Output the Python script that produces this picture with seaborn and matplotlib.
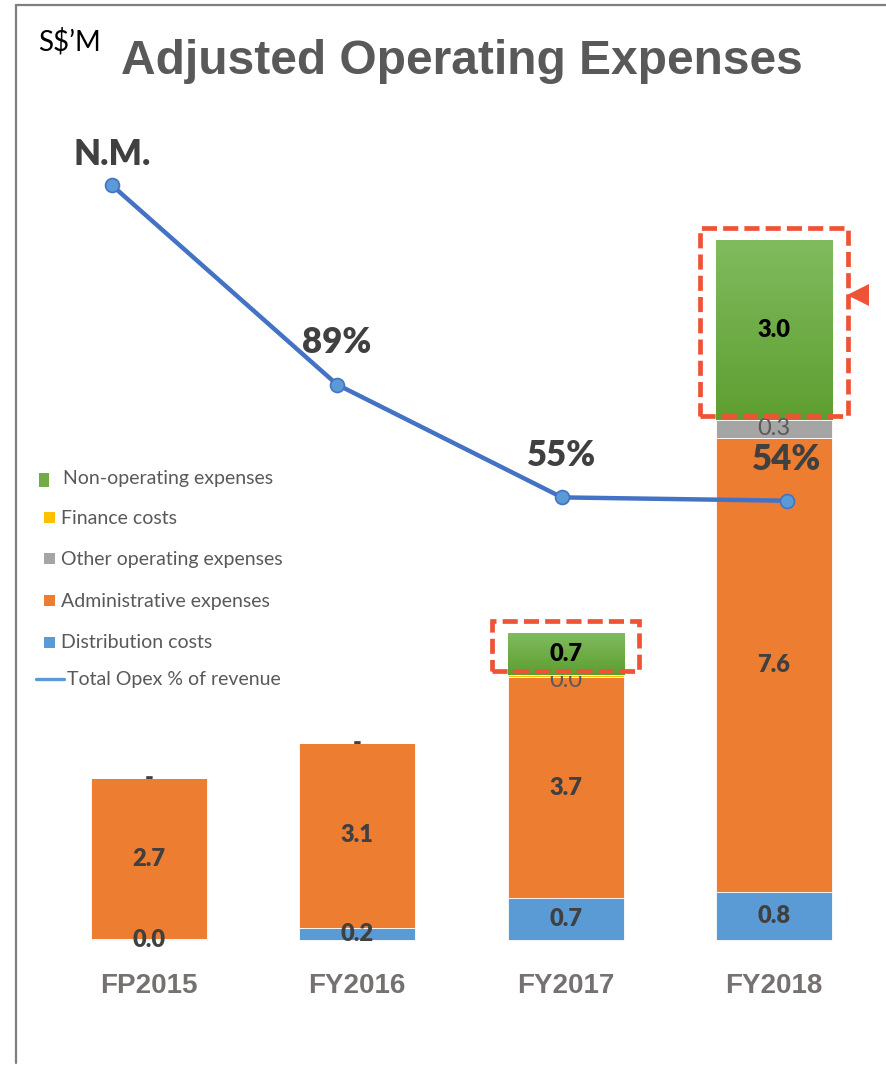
import numpy as np
import matplotlib
matplotlib.use("Agg")
import matplotlib.pyplot as plt
from matplotlib.patches import Rectangle
from matplotlib.lines import Line2D
import seaborn as sns

# ---- data (S$ million) ----
periods = ["FP2015", "FY2016", "FY2017", "FY2018"]
distribution = [0.01, 0.2, 0.7, 0.8]
administrative = [2.7, 3.1, 3.7, 7.6]
other_operating = [0.0, 0.0, 0.0, 0.3]
finance = [0.0, 0.0, 0.03, 0.0]
non_operating = [0.0, 0.0, 0.7, 3.0]

opex_pct = [149, 89, 55, 54]
opex_pct_labels = ["N.M.", "89%", "55%", "54%"]

legend_labels = ["Non-operating expenses", "Finance costs", "Other operating expenses",
                 "Administrative expenses", "Distribution costs", "Total Opex % of revenue"]

# ---- colours ----
C_DIST = "#5B9BD5"
C_ADMIN = "#ED7D31"
C_OTHER = "#A5A5A5"
C_FIN = "#FFC000"
C_NONOP = "#70AD47"
C_LINE = "#4472C4"
C_RED = "#EE5336"
DARK = "#404040"
BOLD = "heavy"

sns.set_theme(style="white")
plt.rcParams["font.family"] = ["Lato", "DejaVu Sans"]

W, H = 886, 1065
fig = plt.figure(figsize=(W / 100, H / 100), dpi=100)
fig.patch.set_facecolor("white")

ax = fig.add_axes([0, 0, 1, 1])
ax.set_facecolor("none")

bar_w = 0.557
series = [
    ("dist", distribution, C_DIST),
    ("admin", administrative, C_ADMIN),
    ("other", other_operating, C_OTHER),
    ("fin", finance, C_FIN),
    ("nonop", non_operating, C_NONOP),
]

bottom = np.zeros(len(periods))
containers = {}
for key, vals, col in series:
    vals = np.asarray(vals, dtype=float)
    z = 4 if key == "nonop" else 2
    sns.barplot(x=periods, y=vals, order=periods, color=col, saturation=1,
                width=bar_w, errorbar=None, bottom=bottom, ax=ax,
                edgecolor="white", linewidth=0.6, zorder=z)
    containers[key] = (ax.containers[-1], vals, bottom.copy())
    bottom = bottom + vals

# green bars get a vertical light-to-dark gradient
grad = np.linspace(0, 1, 256).reshape(-1, 1)
green_cmap = matplotlib.colors.LinearSegmentedColormap.from_list(
    "g", ["#80BB5E", "#5E9E30"])
for patch, v in zip(containers["nonop"][0].patches, containers["nonop"][1]):
    if v <= 0:
        continue
    x0, y0 = patch.get_x(), patch.get_y()
    im = ax.imshow(grad, extent=[x0, x0 + patch.get_width(), y0, y0 + patch.get_height()],
                   origin="upper", cmap=green_cmap, aspect="auto", zorder=4.1)
    im.set_clip_path(patch)

# ---- value labels ----
def label(key, i, text, color=DARK, weight=BOLD, z=5, dy=0):
    cont, vals, bots = containers[key]
    y = bots[i] + vals[i] / 2
    ax.annotate(text, (i, y), xytext=(0, dy), textcoords="offset points",
                ha="center", va="center", fontsize=17, fontweight=weight,
                color=color, zorder=z)

for i in range(len(periods)):
    label("dist", i, f"{distribution[i]:.1f}")
    label("admin", i, f"{administrative[i]:.1f}")
    if other_operating[i] == 0 and non_operating[i] == 0:
        label("other", i, "-")
    elif other_operating[i] > 0:
        label("other", i, f"{other_operating[i]:.1f}", color="#595959", weight="normal")
    if finance[i] > 0:
        label("fin", i, f"{finance[i]:.1f}", color="#595959", weight="normal",
              z=3.5, dy=-3)
    if non_operating[i] > 0:
        label("nonop", i, f"{non_operating[i]:.1f}", color="black")

# ---- category labels ----
for i, p in enumerate(periods):
    ax.annotate(p, (i, 0), xytext=(0, -33), textcoords="offset points",
                ha="center", va="center", fontsize=20, fontweight="bold",
                color="#767171", family="Liberation Sans")

# ---- dashed highlight boxes around the non-operating bars ----
for patch, v in zip(containers["nonop"][0].patches, containers["nonop"][1]):
    if v <= 0:
        continue
    x0, y0 = patch.get_x(), patch.get_y()
    w, h = patch.get_width(), patch.get_height()
    ax.add_patch(Rectangle((x0 - 0.075, y0 + 0.06), w + 0.15, h + 0.15, fill=False,
                           edgecolor=C_RED, linewidth=3.4,
                           linestyle=(0, (3.2, 1.3)), zorder=6))
    last = (x0 + w + 0.075, y0 + h)
ax.plot([last[0] + 0.05], [last[1] - 0.92], marker="<", markersize=16,
        color=C_RED, markeredgewidth=0, zorder=6)

ax.set_xlim(-149 / 208.3, (W - 149) / 208.3)
ax.set_ylim(-125 / 59.8, (H - 125) / 59.8)
ax.set_axis_off()

# ---- opex % of revenue line ----
ax2 = fig.add_axes([0, 0, 1, 1])
ax2.set_facecolor("none")
xs = np.arange(len(periods))
sns.lineplot(x=xs, y=opex_pct, ax=ax2, color=C_LINE, linewidth=3.2, marker="o",
             markersize=10, markerfacecolor=C_DIST, markeredgecolor=C_LINE,
             markeredgewidth=1.2, zorder=7)
for x, y, t in zip(xs, opex_pct, opex_pct_labels):
    off = 22 if t == "N.M." else 30
    ax2.annotate(t, (x, y), xytext=(0, off), textcoords="offset points",
                 ha="center", va="center", fontsize=25, fontweight=BOLD,
                 color=DARK, zorder=8)
ax2.set_xlim(-112 / 225, (W - 112) / 225)
ax2.set_ylim(-385 / 3.32, (H - 385) / 3.32)
ax2.set_axis_off()

# ---- legend ----
def fx(px):
    return px / W

def fy(py):
    return 1 - py / H

legend_rows = [
    (479, C_NONOP, (39, 473, 10, 14), 63),
    (518, C_FIN, (44, 512, 11, 11), 61),
    (559, C_OTHER, (44, 553, 11, 11), 61),
    (601, C_ADMIN, (44, 595, 11, 11), 61),
    (643, C_DIST, (44, 637, 11, 11), 61),
]
for (yc, col, (rx, ry, rw, rh), tx), txt in zip(legend_rows, legend_labels[:5]):
    fig.patches.append(Rectangle((fx(rx), fy(ry + rh)), rw / W, rh / H,
                                 transform=fig.transFigure, facecolor=col,
                                 edgecolor="none", figure=fig))
    fig.text(fx(tx), fy(yc), txt, ha="left", va="center", fontsize=14,
             color="#595959")
fig.lines.append(Line2D([fx(36), fx(64)], [fy(679), fy(679)], transform=fig.transFigure,
                        color=C_DIST, linewidth=2.4, figure=fig))
fig.text(fx(67), fy(679), legend_labels[5], ha="left", va="center", fontsize=14,
         color="#595959")

# ---- titles ----
fig.text(fx(461.5), fy(74), "Adjusted Operating Expenses", ha="center", va="baseline",
         fontsize=34.5, fontweight="bold", color="#595959", family="Liberation Sans")
fig.text(fx(38), fy(50), "S$\u2019M", ha="left", va="baseline", fontsize=20, color="black")

# ---- outer frame ----
fig.lines.append(Line2D([fx(16), fx(W)], [fy(5), fy(5)], transform=fig.transFigure,
                        color="#7F7F7F", linewidth=1.6, figure=fig))
fig.lines.append(Line2D([fx(16), fx(16)], [fy(5), fy(1063)], transform=fig.transFigure,
                        color="#7F7F7F", linewidth=1.6, figure=fig))

fig.savefig("out.png", dpi=100)
